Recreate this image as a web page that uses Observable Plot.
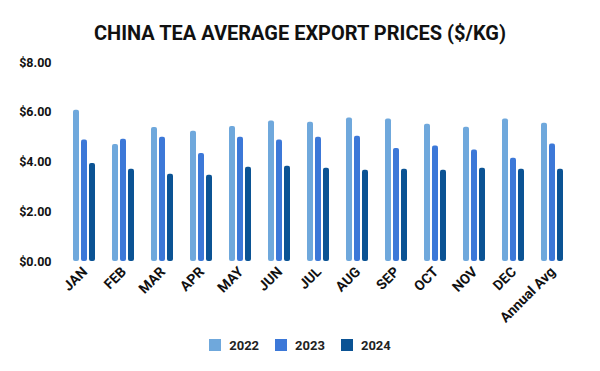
<!DOCTYPE html>
<html>
<head>
<meta charset="utf-8">
<script src="https://cdn.jsdelivr.net/npm/d3@7"></script>
<script src="https://cdn.jsdelivr.net/npm/@observablehq/plot@0.6"></script>
<style>
  body { margin: 0; background: #fff; font-family: Roboto, "Noto Sans", sans-serif; }
  #wrap { width: 600px; height: 371px; position: relative; overflow: hidden; }
  #title { height: 52px; box-sizing: border-box; padding-top: 21px; text-align: center; font-weight: bold; font-size: 20px; line-height: 24px; color: #111; }
  #legend { display: flex; justify-content: center; align-items: center; height: 20px; font-weight: bold; font-size: 13px; color: #222; padding-left: 16px; }
  .item { display: flex; align-items: center; margin-right: 16px; }
  .sw { width: 12px; height: 12px; margin-right: 8px; }
</style>
</head>
<body>
<div id="wrap">
  <div id="title">CHINA TEA AVERAGE EXPORT PRICES ($/KG)</div>
  <div id="chart"></div>
  <div id="legend"></div>
</div>
<script>
const categories = ["JAN","FEB","MAR","APR","MAY","JUN","JUL","AUG","SEP","OCT","NOV","DEC","Annual Avg"];
const years = ["2022","2023","2024"];
const colors = ["#6fa8dc","#3c78d8","#0b5394"];
const values2022 = [6.08,4.70,5.39,5.24,5.43,5.65,5.60,5.77,5.73,5.52,5.40,5.73,5.56];
const values2023 = [4.88,4.91,4.99,4.34,4.99,4.88,4.99,5.04,4.54,4.64,4.48,4.15,4.72];
const values2024 = [3.94,3.71,3.51,3.47,3.79,3.83,3.75,3.67,3.71,3.67,3.75,3.71,3.71];
const yTicks = [0,2,4,6,8];

const series = [values2022, values2023, values2024];
const data = [];
categories.forEach((c, i) => years.forEach((y, j) => data.push({cat: c, year: y, value: series[j][i]})));

const chart = Plot.plot({
  width: 600,
  height: 283,
  marginTop: 10,
  marginBottom: 74,
  marginLeft: 62,
  marginRight: 25,
  style: {fontFamily: "Roboto", fontWeight: "bold", fontSize: "12px", color: "#111"},
  fx: {domain: categories, padding: 0, label: null},
  x: {domain: years, paddingInner: 0.2, paddingOuter: 0.85, axis: null},
  y: {domain: [0, 8], label: null},
  color: {domain: years, range: colors},
  marks: [
    Plot.barY(data, {fx: "cat", x: "year", y: "value", fill: "year", rx: 2}),
    Plot.axisY({ticks: yTicks, tickSize: 0, tickPadding: 14, tickFormat: d => "$" + d.toFixed(2), label: null, fontSize: 12.5}),
    Plot.axisFx({anchor: "bottom", tickSize: 0, tickPadding: 8, tickRotate: -45, label: null, fontSize: 14})
  ]
});
document.getElementById("chart").appendChild(chart);

const legend = document.getElementById("legend");
years.forEach((y, i) => {
  const it = document.createElement("div");
  it.className = "item";
  it.innerHTML = `<div class="sw" style="background:${colors[i]}"></div><span>${y}</span>`;
  legend.appendChild(it);
});
</script>
</body>
</html>
